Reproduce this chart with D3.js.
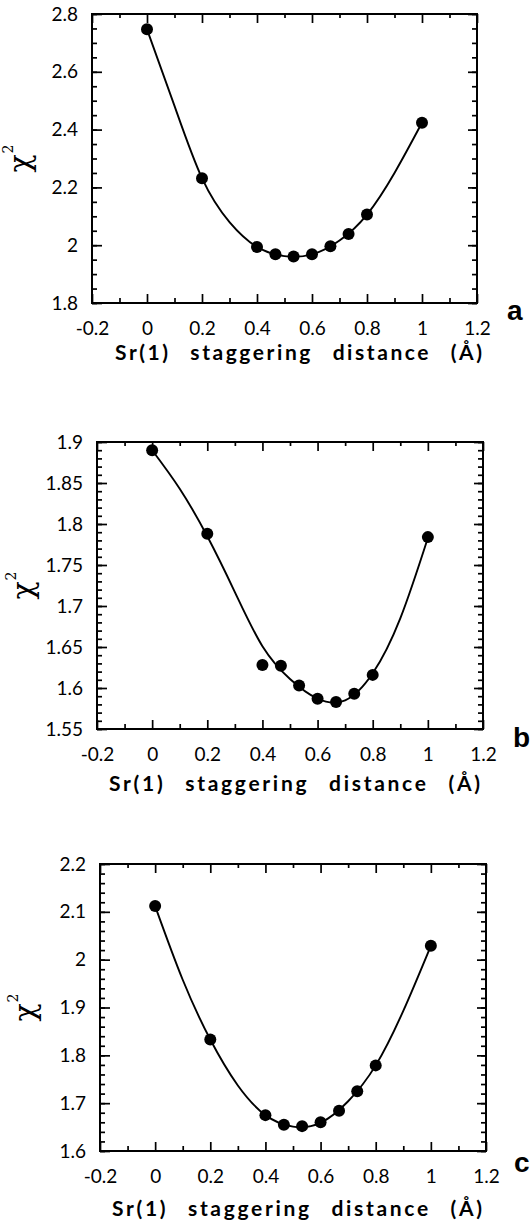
<!DOCTYPE html>
<html>
<head>
<meta charset="utf-8">
<script src="https://cdn.jsdelivr.net/npm/d3@7"></script>
<style>
  body { margin: 0; background: #fff; }
</style>
</head>
<body>
<svg id="chart" width="530" height="1225"></svg>
<script>
// staggering distances (same for the three fits)
const xs = [0, 0.2, 0.4, 0.467, 0.533, 0.6, 0.667, 0.733, 0.8, 1];
const chiA = [2.747, 2.232, 1.994, 1.969, 1.961, 1.969, 1.996, 2.039, 2.106, 2.424];
const chiB = [1.890, 1.788, 1.628, 1.627, 1.603, 1.587, 1.583, 1.593, 1.616, 1.784];
const chiC = [2.112, 1.833, 1.675, 1.655, 1.652, 1.660, 1.684, 1.725, 1.779, 2.029];

// fitted curves at every 0.1
const fitX = [0, 0.1, 0.2, 0.3, 0.4, 0.5, 0.6, 0.7, 0.8, 0.9, 1];
const fitA = [2.747, 2.482, 2.232, 2.080, 1.994, 1.962, 1.968, 2.016, 2.106, 2.250, 2.424];
const fitB = [1.890, 1.843, 1.785, 1.717, 1.651, 1.611, 1.587, 1.585, 1.618, 1.685, 1.783];
const fitC = [2.112, 1.958, 1.833, 1.737, 1.675, 1.651, 1.659, 1.704, 1.779, 1.893, 2.029];

const xTicks = [-0.2, 0, 0.2, 0.4, 0.6, 0.8, 1, 1.2];
const yTicksA = [1.8, 2, 2.2, 2.4, 2.6, 2.8];
const yTicksB = [1.55, 1.6, 1.65, 1.7, 1.75, 1.8, 1.85, 1.9];
const yTicksC = [1.6, 1.7, 1.8, 1.9, 2, 2.1, 2.2];
const panelLabels = ["a", "b", "c"];
const xTitle = "Sr(1) staggering distance (Å)";

const svg = d3.select("#chart");
const fmt = d => String(+d.toFixed(2));
const sans = "Lato, 'DejaVu Sans', sans-serif";

const panels = [
  { left: 92, right: 477, top: 14, bottom: 303, yTicks: yTicksA, yMinor: 0.05,
    pts: chiA, fit: fitA, titleDy: 57, titleX: [115, 482], chiX: 62,
    label: panelLabels[0], labX: 507, labY: 320 },
  { left: 97, right: 483, top: 442, bottom: 729, yTicks: yTicksB, yMinor: 0.01,
    pts: chiB, fit: fitB, titleDy: 62, titleX: [109, 480], chiX: 64,
    label: panelLabels[1], labX: 513, labY: 747 },
  { left: 100, right: 486, top: 864, bottom: 1151, yTicks: yTicksC, yMinor: 0.02,
    pts: chiC, fit: fitC, titleDy: 65, titleX: [112, 482], chiX: 65,
    label: panelLabels[2], labX: 514, labY: 1172 }
];

function DesenhaPainel(p) {
  const g = svg.append("g");
  const y0 = p.yTicks[0], y1 = p.yTicks[p.yTicks.length - 1];

  const x = d3.scaleLinear().domain([-0.2, 1.2]).range([p.left, p.right]);
  const y = d3.scaleLinear().domain([y0, y1]).range([p.bottom, p.top]);

  const xMinor = d3.range(-0.1, 1.2, 0.2);
  const yMinor = d3.range(y0, y1 + 1e-9, p.yMinor);

  // ticks on all four sides, pointing inwards
  function eixo(axis, tr, size, values, labels) {
    const a = g.append("g").attr("transform", tr)
      .call(axis.tickValues(values).tickSize(-size).tickFormat(labels ? fmt : ""));
    a.select(".domain").remove();
    a.selectAll("line").attr("stroke", "#000").attr("stroke-width", 1.7);
    a.attr("font-family", sans).attr("font-size", 19);
    return a;
  }

  const bx = eixo(d3.axisBottom(x), `translate(0,${p.bottom})`, 9, xTicks, true);
  bx.selectAll("text").attr("y", 32).attr("dy", null).attr("fill", "#000");
  eixo(d3.axisBottom(x), `translate(0,${p.bottom})`, 5, xMinor, false);
  eixo(d3.axisTop(x), `translate(0,${p.top})`, 9, xTicks, false);
  eixo(d3.axisTop(x), `translate(0,${p.top})`, 4, xMinor, false);

  const ly = eixo(d3.axisLeft(y).tickPadding(14), `translate(${p.left},0)`, 10, p.yTicks, true);
  ly.selectAll("text").attr("fill", "#000");
  eixo(d3.axisLeft(y), `translate(${p.left},0)`, 5, yMinor, false);
  eixo(d3.axisRight(y), `translate(${p.right},0)`, 9, p.yTicks, false);
  eixo(d3.axisRight(y), `translate(${p.right},0)`, 5, yMinor, false);

  // frame
  g.append("rect")
    .attr("x", p.left).attr("y", p.top)
    .attr("width", p.right - p.left).attr("height", p.bottom - p.top)
    .attr("fill", "none").attr("stroke", "#000").attr("stroke-width", 2);

  // fitted curve
  const line = d3.line()
    .x((d, i) => x(fitX[i]))
    .y(d => y(d))
    .curve(d3.curveNatural);
  g.append("path")
    .attr("d", line(p.fit))
    .attr("fill", "none").attr("stroke", "#000").attr("stroke-width", 1.9);

  // points
  g.selectAll("circle")
    .data(p.pts)
    .enter()
    .append("circle")
    .attr("cx", (d, i) => x(xs[i]))
    .attr("cy", d => y(d))
    .attr("r", 6)
    .attr("fill", "#000");

  // chi^2 label
  const yl = g.append("text")
    .attr("transform", `translate(${p.left - p.chiX},${(p.top + p.bottom) / 2}) rotate(-90)`)
    .attr("text-anchor", "middle")
    .attr("font-family", "'DejaVu Serif', serif")
    .attr("font-size", 30);
  yl.append("tspan").text("χ");
  yl.append("tspan").attr("font-size", 14).attr("dy", -17).attr("dx", 1).text("2");

  // x title
  g.append("text")
    .attr("x", (p.titleX[0] + p.titleX[1]) / 2)
    .attr("y", p.bottom + p.titleDy)
    .attr("text-anchor", "middle")
    .attr("font-family", sans)
    .attr("font-weight", "bold")
    .attr("font-size", 21)
    .attr("word-spacing", 12)
    .attr("textLength", p.titleX[1] - p.titleX[0])
    .attr("lengthAdjust", "spacing")
    .text(xTitle);

  // panel letter
  g.append("text")
    .attr("x", p.labX).attr("y", p.labY)
    .attr("font-family", "'Liberation Sans', Arial, sans-serif")
    .attr("font-weight", "bold")
    .attr("font-size", 28)
    .text(p.label);
}

panels.forEach(DesenhaPainel);
</script>
</body>
</html>
